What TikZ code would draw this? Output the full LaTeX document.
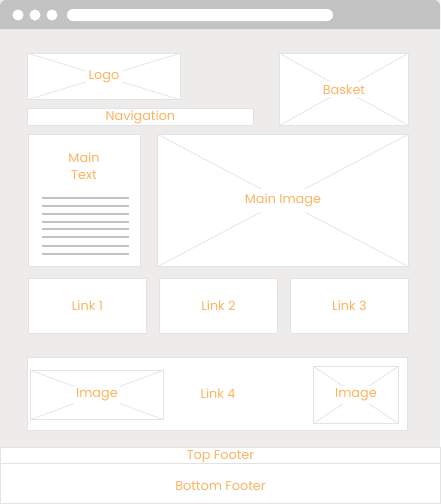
\documentclass[tikz,border=0pt]{standalone}
\usepackage{fontspec}
\setmainfont{Poppins}
\newlength{\du}
\setlength{\du}{1pt}
\definecolor{barcolor}{HTML}{C3C3C3}
\definecolor{pagecolor}{HTML}{EDECEA}
\definecolor{panelline}{HTML}{E3E3E3}
\definecolor{crossline}{HTML}{E6E6E6}
\definecolor{textline}{HTML}{C2C2C2}
\definecolor{labelcolor}{HTML}{FBB560}
\tikzset{
  panel/.style={draw=panelline, fill=white, line width=0.9\du, inner sep=0pt, anchor=north west},
  cross/.style={draw=crossline, line width=0.8\du},
  tag/.style={text=labelcolor, fill=white, inner sep=2.5\du, font=\fontsize{12.8}{15}\selectfont},
}
\begin{document}
\begin{tikzpicture}
\pgftransformxscale{1.000000}
\pgftransformyscale{-1.000000}
\useasboundingbox (0\du,0\du) rectangle (440\du,504\du);
% browser window
\fill[pagecolor] (0\du,0\du) rectangle (440\du,504\du);
\fill[barcolor] (0\du,29\du) [rounded corners=6\du] -- (0\du,0\du) -- (440\du,0\du) [sharp corners] -- (440\du,29\du) -- cycle;
\fill[white] (18\du,15\du) circle (5.5\du);
\fill[white] (35\du,15\du) circle (5.5\du);
\fill[white] (52\du,15\du) circle (5.5\du);
\fill[white, rounded corners=6\du] (67\du,9\du) rectangle (333\du,21\du);
% header
\node[panel, minimum width=153\du, minimum height=46\du] (logo) at (27\du,53\du) {};
\draw[cross] (logo.north west) -- (logo.south east) (logo.south west) -- (logo.north east);
\node[tag] (logolabel) at (logo.center) {Logo};
\node[panel, minimum width=129\du, minimum height=72\du] (basket) at (279\du,53\du) {};
\draw[cross] (basket.north west) -- (basket.south east) (basket.south west) -- (basket.north east);
\node[tag] (basketlabel) at (basket.center) {Basket};
\node[panel, minimum width=226\du, minimum height=17\du] (navigation) at (27\du,108\du) {};
\node[tag, fill=none] (navigationlabel) at (navigation.center) {Navigation};
% main content
\node[panel, minimum width=112\du, minimum height=132\du] (maintext) at (28\du,134\du) {};
\node[tag, align=center, font=\fontsize{12.8}{16.5}\selectfont] (maintextlabel) at (84\du,166\du) {Main\\Text};
\draw[textline, line width=1.8\du] (42\du,197.7\du) -- (129\du,197.7\du);
\draw[textline, line width=1.8\du] (42\du,205.7\du) -- (129\du,205.7\du);
\draw[textline, line width=1.8\du] (42\du,214.3\du) -- (129\du,214.3\du);
\draw[textline, line width=1.8\du] (42\du,222.3\du) -- (129\du,222.3\du);
\draw[textline, line width=1.8\du] (42\du,229.3\du) -- (129\du,229.3\du);
\draw[textline, line width=1.8\du] (42\du,237.3\du) -- (129\du,237.3\du);
\draw[textline, line width=1.8\du] (42\du,246.3\du) -- (129\du,246.3\du);
\draw[textline, line width=1.8\du] (42\du,254.3\du) -- (129\du,254.3\du);
\node[panel, minimum width=251\du, minimum height=132\du] (mainimage) at (157\du,134\du) {};
\draw[cross] (mainimage.north west) -- (mainimage.south east) (mainimage.south west) -- (mainimage.north east);
\node[tag, inner sep=5\du] (mainimagelabel) at (mainimage.center) {Main Image};
% links
\node[panel, minimum width=118\du, minimum height=55\du] (linkone) at (28\du,278\du) {};
\node[tag] (linkonelabel) at (linkone.center) {Link 1};
\node[panel, minimum width=118\du, minimum height=55\du] (linktwo) at (159\du,278\du) {};
\node[tag] (linktwolabel) at (linktwo.center) {Link 2};
\node[panel, minimum width=118\du, minimum height=55\du] (linkthree) at (290\du,278\du) {};
\node[tag] (linkthreelabel) at (linkthree.center) {Link 3};
\node[panel, minimum width=380\du, minimum height=73\du] (linkfour) at (27\du,357\du) {};
\node[tag] (linkfourlabel) at (218\du,394\du) {Link 4};
\node[panel, minimum width=133\du, minimum height=49\du] (imageleft) at (30\du,370\du) {};
\draw[cross] (imageleft.north west) -- (imageleft.south east) (imageleft.south west) -- (imageleft.north east);
\node[tag] (imageleftlabel) at (imageleft.center) {Image};
\node[panel, minimum width=85\du, minimum height=57\du] (imageright) at (313\du,366\du) {};
\draw[cross] (imageright.north west) -- (imageright.south east) (imageright.south west) -- (imageright.north east);
\node[tag] (imagerightlabel) at (imageright.center) {Image};
% footer
\node[panel, minimum width=440\du, minimum height=16\du] (topfooter) at (0\du,447\du) {};
\node[tag, fill=none] (topfooterlabel) at ([yshift=1\du]topfooter.center) {Top Footer};
\node[panel, minimum width=440\du, minimum height=40\du] (bottomfooter) at (0\du,463\du) {};
\node[tag, fill=none] (bottomfooterlabel) at ([yshift=3\du]bottomfooter.center) {Bottom Footer};
\end{tikzpicture}
\end{document}
